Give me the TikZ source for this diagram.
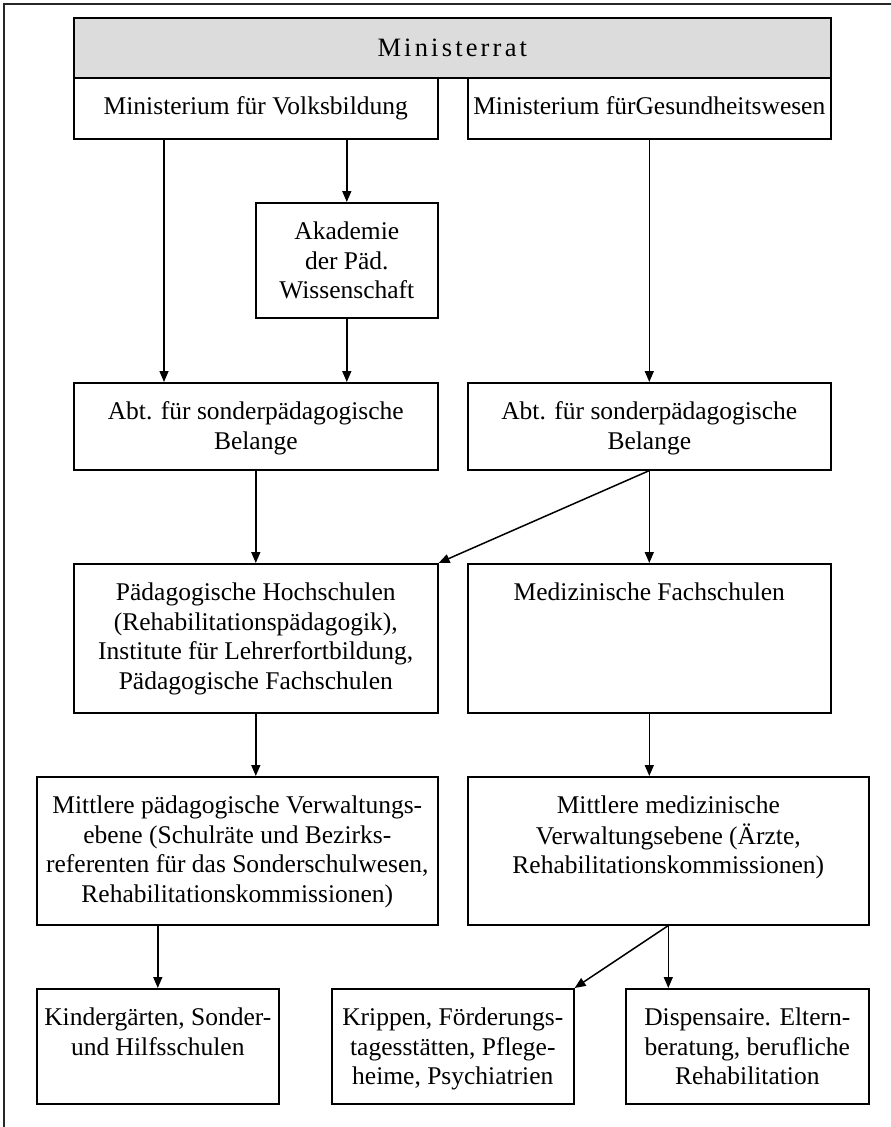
\documentclass[tikz,border=0pt]{standalone}
\usepackage{fontspec}
\setmainfont{Liberation Serif}
\newfontfamily\spacedfont[LetterSpace=12]{Liberation Serif}
\usetikzlibrary{arrows.meta}
\definecolor{headgray}{HTML}{DCDCDC}
\tikzset{
  box/.style={draw, line width=1.6pt, inner sep=0pt, anchor=north west,
    font=\fontsize{25.5}{29.5}\selectfont},
  arr/.style={line width=1.5pt, -{Triangle[length=11pt,width=9pt]}},
  framestyle/.style={line width=1.6pt, draw=black!85}
}
% #1 extra style, #2 name, #3 x1, #4 y1, #5 x2, #6 y2, #7 text
\newcommand\mkbox[7][]{%
  \node[box,#1] (#2) at (#3,#4)
    {\parbox[c][\dimexpr#6pt-#4pt\relax][t]{\dimexpr#5pt-#3pt\relax}%
      {\centering\vspace*{16.5pt}\strut\ignorespaces#7\par}};}
\begin{document}
\begin{tikzpicture}[x=1pt,y=-1pt]
\useasboundingbox (0,0) rectangle (891,1127);
\draw[framestyle] (891,4) -- (4,4) -- (4,1127);

\node[box, fill=headgray] (minrat) at (73,17)
  {\parbox[c][60pt][c]{757pt}{\centering\fontsize{26.5}{30}\spacedfont Ministerrat}};
\mkbox{minvb}{73}{77}{437}{138}{Ministerium für Volksbildung}
\mkbox{mingw}{467}{77}{830}{138}{Ministerium fürGesundheitswesen}
\mkbox{akad}{255}{202}{437}{317}{Akademie\\der Päd.\\Wissenschaft}
\mkbox{abtl}{73}{382}{437}{469}{Abt. für sonderpädagogische\\Belange}
\mkbox{abtr}{467}{382}{830}{469}{Abt. für sonderpädagogische\\Belange}
\mkbox{padhs}{73}{563}{437}{712}{Pädagogische Hochschulen\\(Rehabilitationspädagogik),\\Institute für Lehrerfortbildung,\\Pädagogische Fachschulen}
\mkbox{med}{467}{563}{830}{712}{Medizinische Fachschulen}
\mkbox{mittl}{36}{776}{437}{924}{Mittlere pädagogische Verwaltungs-\\ebene (Schulräte und Bezirks-\\referenten für das Sonderschulwesen,\\Rehabilitationskommissionen)}
\mkbox{mittr}{467}{776}{868}{924}{Mittlere medizinische\\Verwaltungsebene (Ärzte,\\Rehabilitationskommissionen)}
\mkbox{kind}{36}{988}{278}{1103}{Kindergärten, Sonder-\\und Hilfsschulen}
\mkbox{krip}{331}{988}{573}{1103}{Krippen, Förderungs-\\tagesstätten, Pflege-\\heime, Psychiatrien}
\mkbox{disp}{625}{988}{868}{1103}{Dispensaire. Eltern-\\beratung, berufliche\\Rehabilitation}

\draw[arr] ([xshift=91pt]minvb.south west) -- ([xshift=91pt]abtl.north west);
\draw[arr] (minvb.south -| akad.north) -- (akad.north);
\draw[arr] (akad.south) -- (akad.south |- abtl.north);
\draw[arr] (mingw.south) -- (abtr.north);
\draw[arr] (abtl.south) -- (padhs.north);
\draw[arr] (abtr.south) -- (med.north);
\draw[arr] (abtr.south) -- (padhs.north east);
\draw[arr] (padhs.south) -- (padhs.south |- mittl.north);
\draw[arr] (med.south) -- (med.south |- mittr.north);
\draw[arr] (kind.north |- mittl.south) -- (kind.north);
\draw[arr] (mittr.south) -- (krip.north east);
\draw[arr] (mittr.south) -- (mittr.south |- disp.north);
\end{tikzpicture}
\end{document}
